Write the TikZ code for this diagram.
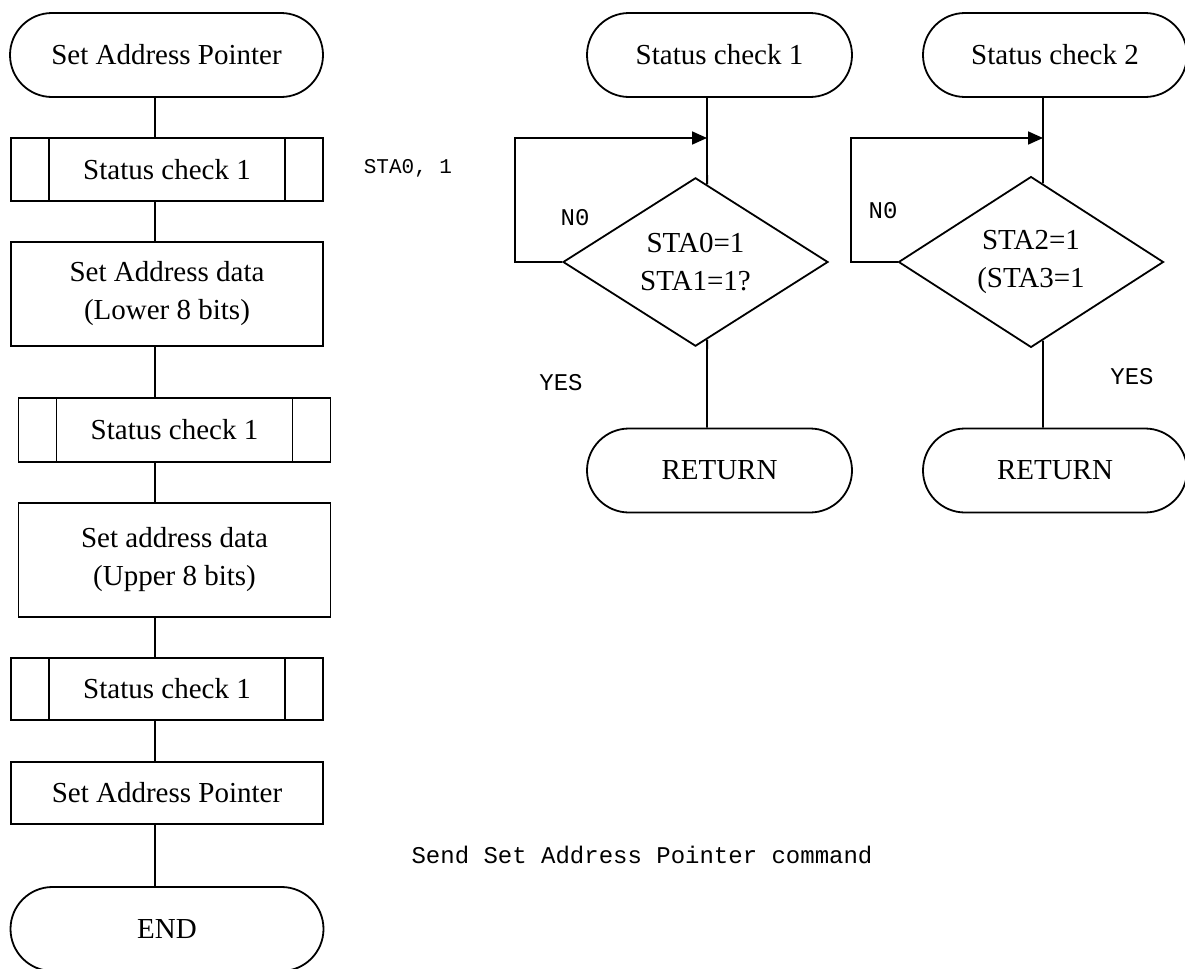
\documentclass[tikz,border=0pt]{standalone}
\usepackage{fontspec}
\setmainfont{Liberation Serif}
\setmonofont{Liberation Mono}
\usetikzlibrary{shapes.geometric,arrows.meta,calc}

\tikzset{
  termbox/.style={draw, rectangle, rounded corners=21pt, minimum height=42pt, inner sep=0pt, font=\fontsize{14.5}{17}\selectfont},
  procbox/.style={draw, rectangle, minimum width=156pt, inner sep=0pt, align=center, font=\fontsize{14.5}{19}\selectfont},
  subbox/.style={procbox, path picture={
      \draw[line width=0.9pt] ([xshift=19pt]path picture bounding box.north west) -- ([xshift=19pt]path picture bounding box.south west);
      \draw[line width=0.9pt] ([xshift=-19pt]path picture bounding box.north east) -- ([xshift=-19pt]path picture bounding box.south east);}},
  decbox/.style={draw, diamond, minimum width=132.5pt, minimum height=83pt, inner sep=0pt, align=center, font=\fontsize{14.5}{19}\selectfont},
  flow/.style={-{Triangle[length=7.5pt,width=6.5pt]}},
  lbl/.style={font=\ttfamily\fontsize{12}{14}\selectfont},
}

\begin{document}
\begin{tikzpicture}[x=0.5pt,y=-0.5pt,line width=0.9pt]
\clip (0,0) rectangle (1185,969);
% Main flow
\node[termbox, minimum width=156.5pt] (start) at (166.5,55) {Set Address Pointer};
\node[subbox, minimum height=31.5pt] (sca) at (167,169.5) {Status check 1};
\node[procbox, minimum height=52pt] (lowr) at (167,294) {Set Address data\\(Lower 8 bits)};
\node[subbox, minimum height=32pt] (scb) at (174.5,430) {Status check 1};
\node[procbox, minimum height=57pt] (uppr) at (174.5,560) {Set address data\\(Upper 8 bits)};
\node[subbox, minimum height=31pt] (scc) at (167,689) {Status check 1};
\node[procbox, minimum height=31pt] (setp) at (167,793) {Set Address Pointer};
\node[termbox, minimum width=156.5pt] (endn) at (167,929) {END};
\coordinate (spine) at (155,0);
\foreach \a/\b in {start/sca, sca/lowr, lowr/scb, scb/uppr, uppr/scc, scc/setp, setp/endn}
  \draw (\a.south -| spine) -- (\b.north -| spine);
% Status check 1
\node[termbox, minimum width=132.5pt] (rsa) at (719.5,55) {Status check 1};
\node[decbox] (deca) at (695.5,262) {STA0=1\\STA1=1?};
\node[termbox, minimum width=132.5pt] (reta) at (719.5,470.5) {RETURN};
\coordinate (ina) at (707,138);
\coordinate (lpa) at (515,138);
\draw (rsa.south -| ina) -- ($(deca.north)!0.087!(deca.east)$);
\draw ($(deca.south)!0.087!(deca.east)$) -- (reta.north -| ina);
\draw[flow] (deca.west) -- (lpa |- deca.west) -- (lpa) -- (ina);
% Status check 2
\node[termbox, minimum width=132pt] (rsb) at (1055,55) {Status check 2};
\node[decbox] (decb) at (1031,262) {STA2=1\\(STA3=1};
\node[termbox, minimum width=132pt] (retb) at (1055,470.5) {RETURN};
\coordinate (inb) at (1043,138);
\coordinate (lpb) at (851,138);
\draw (rsb.south -| inb) -- ($(decb.north)!0.09!(decb.east)$);
\draw ($(decb.south)!0.09!(decb.east)$) -- (retb.north -| inb);
\draw[flow] (decb.west) -- (lpb |- decb.west) -- (lpb) -- (inb);
% Labels
\node[lbl, font=\ttfamily\fontsize{10.5}{12}\selectfont] (stalbl) at (408,168) {STA0, 1};
\node[lbl] (noa) at (575,218) {N0};
\node[lbl] (yesa) at (561,383) {YES};
\node[lbl] (nob) at (883,211) {N0};
\node[lbl] (yesb) at (1132,377) {YES};
\node[lbl] (sendlbl) at (642,855) {Send Set Address Pointer command};
\end{tikzpicture}
\end{document}
